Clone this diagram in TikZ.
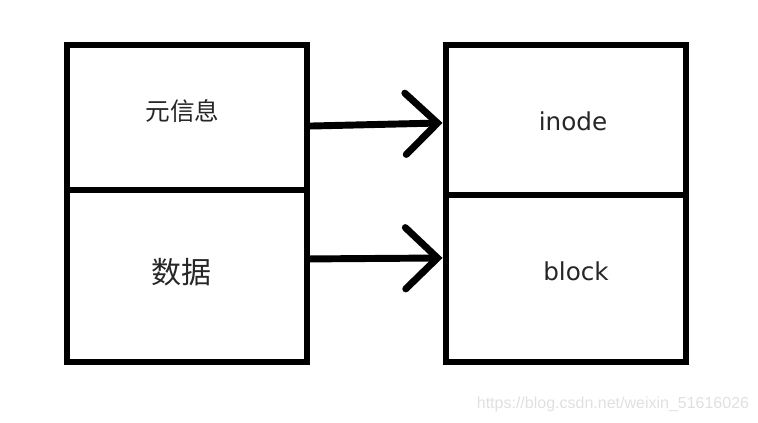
\documentclass[tikz,border=0pt]{standalone}
\usepackage{fontspec}
\setmainfont{DejaVu Sans}
\newfontfamily\cjk{Noto Sans CJK SC}
\newfontfamily\markfont{Liberation Sans}
\usetikzlibrary{positioning, arrows.meta}

\begin{document}
\begin{tikzpicture}[
  x=0.75pt, y=-0.75pt,
  cell/.style={draw, line width=5.2pt, minimum width=240*0.75pt, inner sep=0pt},
  tag/.style={inner sep=0pt, text=black!85},
  link/.style={line width=5.2pt, line cap=round, -{Straight Barb[length=24pt, width=46pt, line cap=round]}}
]
\useasboundingbox (0,0) rectangle (758,422);

% Left column
\node[cell, minimum height=145*0.75pt] (meta) at (187,117.5) {};
\node[cell, minimum height=172*0.75pt, below=-5.2pt of meta] (data) {};
\node[tag, font=\cjk\fontsize{18.5}{22}\selectfont] (metaText) at (182.5,111.5) {元信息};
\node[tag, font=\cjk\fontsize{22.5}{26}\selectfont] (dataText) at (181.5,272) {数据};

% Right column
\node[cell, minimum height=150*0.75pt] (inode) at (566,120) {};
\node[cell, minimum height=167*0.75pt, below=-5.2pt of inode] (block) {};
\node[tag, font=\fontsize{18.5}{22}\selectfont] (inodeText) at (573,121.5) {inode};
\node[tag, font=\fontsize{18.5}{22}\selectfont] (blockText) at (576,271.5) {block};

% Connections
\draw[link] ([yshift=-6.4pt]meta.east) -- ([yshift=-2.2pt]inode.west);
\draw[link] ([yshift=12.8pt]data.east) -- ([yshift=15.4pt]block.west);

% Watermark
\node[font=\markfont\fontsize{12}{14}\selectfont, text=black!12] (mark) at (613,404) {https://blog.csdn.net/weixin\_51616026};

\end{tikzpicture}
\end{document}
